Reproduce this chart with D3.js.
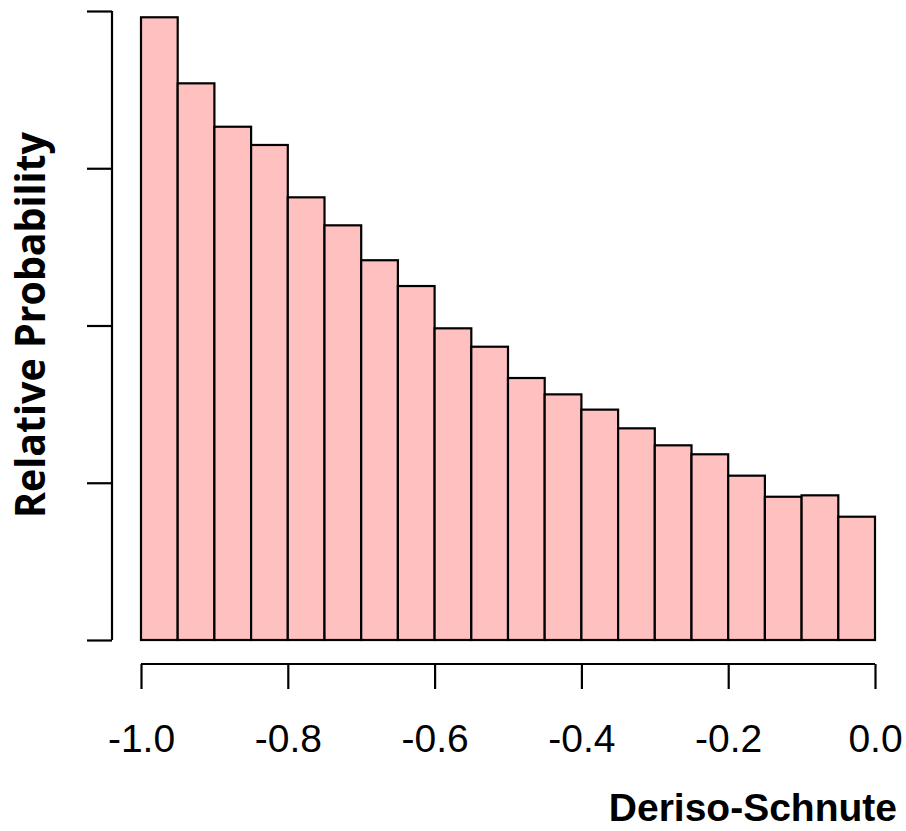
<!DOCTYPE html>
<html>
<head>
<meta charset="utf-8">
<script src="https://cdn.jsdelivr.net/npm/d3@7"></script>
<style>
body { margin:0; background:#fff; }
svg { display:block; }
</style>
</head>
<body>
<div id="chart"></div>
<script>
(function(){

// bin edges of the histogram (left edge of each bar), width 0.05
var bin_left = [-1.00,-0.95,-0.90,-0.85,-0.80,-0.75,-0.70,-0.65,-0.60,-0.55,
                -0.50,-0.45,-0.40,-0.35,-0.30,-0.25,-0.20,-0.15,-0.10,-0.05]
var bin_width = 0.05

// relative probability per bin (in y-tick units)
var rel_prob = [3.960,3.540,3.264,3.148,2.815,2.637,2.415,2.251,1.982,1.865,
                1.666,1.562,1.465,1.346,1.238,1.181,1.045,0.911,0.920,0.784]

var x_ticks = [-1.0,-0.8,-0.6,-0.4,-0.2,0.0]
var y_ticks = [0,1,2,3,4]

var W = 906, H = 831

var svg = d3.select("#chart").append("svg")
	.attr("width",W)
	.attr("height",H)

var x = d3.scaleLinear().domain([-1,0]).range([141,875]);
var y = d3.scaleLinear().domain([0,4]).range([640,11]);

var data = bin_left.map(function(b,i){ return {x0:b, x1:b+bin_width, v:rel_prob[i]} })

// bars
svg.selectAll(".bar").data(data).enter()
	.append("rect")
	.attr("class","bar")
	.attr("x",function(d){return x(d.x0)})
	.attr("width",function(d){return x(d.x1)-x(d.x0)})
	.attr("y",function(d){return y(d.v)})
	.attr("height",function(d){return y(0)-y(d.v)})
	.style("fill","#ffc0c0")
	.style("stroke","#000")
	.style("stroke-width",2.2)

// y axis (no labels), R style
var yax = svg.append("g")
	.attr("transform","translate(112,0)")
	.call(d3.axisLeft(y).tickValues(y_ticks).tickSize(25).tickFormat(""))
yax.select(".domain").attr("d","M0,"+y(4)+"V"+y(0))
yax.selectAll("path,line").style("stroke","#000").style("stroke-width",2.2)

// x axis, detached below the bars
var xax = svg.append("g")
	.attr("transform","translate(0,664)")
	.call(d3.axisBottom(x).tickValues(x_ticks).tickSize(25).tickPadding(35)
		.tickFormat(d3.format(".1f")))
xax.select(".domain").attr("d","M"+x(-1)+",0H"+x(0))
xax.selectAll("path,line").style("stroke","#000").style("stroke-width",2.2)
xax.selectAll("text")
	.style("font-family","Liberation Sans, Arial, sans-serif")
	.style("font-size","39px")
	.style("fill","#000")
	.text(function(d){ return d3.format(".1f")(d).replace("−","-") })

// axis titles
svg.append("text")
	.text("Deriso-Schnute")
	.attr("x",897)
	.attr("y",821)
	.style("text-anchor","end")
	.style("font-family","Liberation Sans, Arial, sans-serif")
	.style("font-weight","bold")
	.style("font-size","39px")

svg.append("text")
	.text("Relative Probability")
	.attr("transform","translate(45,325) rotate(-90)")
	.attr("textLength",386)
	.attr("lengthAdjust","spacingAndGlyphs")
	.style("text-anchor","middle")
	.style("font-family","Open Sans, Noto Sans, sans-serif")
	.style("font-weight","bold")
	.style("font-size","41px")

})()
</script>
</body>
</html>
